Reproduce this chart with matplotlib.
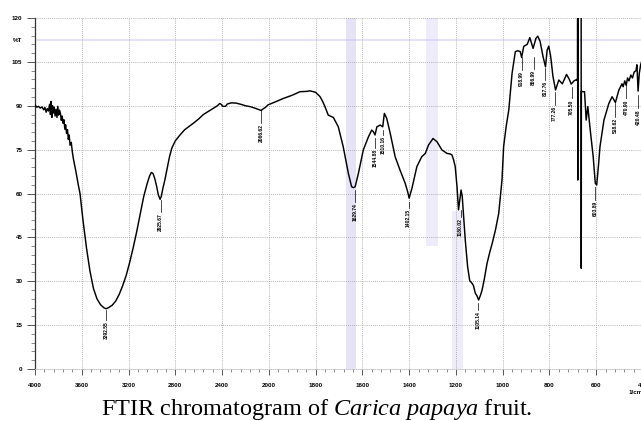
import numpy as np
import matplotlib
matplotlib.use("Agg")
import matplotlib.pyplot as plt
from matplotlib.ticker import FixedLocator

# ---------------- data ----------------
wavenumber = [4000, 3985, 3970, 3955, 3940, 3925, 3915, 3905, 3895, 3885, 3875, 3868, 3862,
              3856, 3850, 3843, 3836, 3828, 3820, 3812, 3805, 3798, 3790, 3782, 3775, 3768,
              3760, 3752, 3745, 3738, 3730, 3722, 3715, 3708, 3700, 3690, 3680, 3670, 3650,
              3630, 3615, 3590, 3560, 3530, 3500, 3470, 3440, 3410, 3392, 3370, 3340, 3310,
              3280, 3250, 3220, 3190, 3160, 3130, 3100, 3070, 3040, 3020, 3005, 2990, 2975,
              2960, 2945, 2930, 2920, 2905, 2890, 2870, 2850, 2830, 2800, 2760, 2720, 2680,
              2640, 2600, 2560, 2520, 2480, 2440, 2420, 2405, 2395, 2370, 2355, 2320, 2280,
              2240, 2200, 2160, 2120, 2080, 2067, 2050, 2030, 2007, 1970, 1938, 1900, 1867,
              1840, 1824, 1800, 1781, 1770, 1760, 1746, 1735, 1724, 1703, 1682, 1660, 1646,
              1638, 1631, 1617, 1596, 1574, 1560, 1552, 1546, 1538, 1524, 1513, 1506, 1496,
              1481, 1460, 1439, 1417, 1406, 1400, 1388, 1367, 1346, 1331, 1317, 1298, 1281,
              1260, 1238, 1224, 1217, 1210, 1203, 1195, 1189, 1183, 1178, 1173, 1167, 1160,
              1150, 1141, 1131, 1125, 1117, 1110, 1103, 1095, 1088, 1078, 1067, 1055, 1045,
              1031, 1017, 1003, 996, 985, 974, 960, 946, 935, 925, 919, 910, 895, 884, 870,
              858, 850, 840, 828, 817, 810, 803, 795, 785, 774, 760, 745, 727, 715, 707, 695,
              683, 680, 679.5, 679, 678.5, 664.5, 664, 663.5, 658, 650, 643, 636, 624, 613,
              604, 598, 590, 584, 567, 546, 532, 518, 503, 490, 485, 478, 472, 466, 460, 452,
              445, 438, 430, 426, 421, 416, 410, 404, 400]
transmittance = [90.3, 89.5, 89.8, 89.2, 89.6, 88.6, 89.4, 87.8, 89.0, 88.2, 90.5, 87.0, 91.5,
                 86.0, 90.0, 87.5, 89.5, 86.5, 88.8, 86.0, 89.8, 86.8, 88.5, 87.2, 85.0, 86.5,
                 84.0, 85.2, 82.0, 83.5, 80.5, 81.8, 78.5, 80.0, 76.5, 77.5, 74.0, 71.5, 67.5,
                 63.0, 60.0, 51.0, 41.5, 33.5, 27.5, 24.0, 22.0, 20.9, 20.6, 21.0, 21.8, 23.2,
                 25.5, 28.5, 32.0, 36.5, 41.5, 47.0, 53.0, 59.0, 63.5, 66.0, 67.2, 66.8, 65.0,
                 62.5, 59.5, 58.0, 59.0, 62.0, 64.5, 68.5, 72.5, 75.5, 78.0, 80.0, 81.8, 83.0,
                 84.2, 85.5, 87.0, 88.0, 89.0, 90.0, 90.8, 90.4, 89.8, 89.8, 90.6, 91.0, 90.9,
                 90.5, 90.0, 89.7, 89.2, 88.6, 88.4, 88.9, 89.4, 90.3, 91.4, 92.5, 93.6, 94.8,
                 94.9, 95.1, 94.6, 93.1, 91.5, 89.7, 86.8, 86.4, 86.0, 82.8, 76.0, 66.9, 62.3,
                 62.0, 62.3, 66.9, 74.9, 79.4, 81.7, 81.0, 80.0, 82.8, 83.4, 82.8, 87.4, 85.7,
                 80.6, 72.6, 68.0, 63.5, 60.5, 58.4, 61.8, 69.2, 72.6, 73.7, 76.6, 78.8, 77.7,
                 74.9, 73.7, 73.5, 73.2, 71.5, 69.2, 62.0, 54.4, 58.0, 61.2, 59.0, 52.0, 44.0,
                 35.0, 30.2, 29.3, 28.5, 25.9, 25.0, 23.6, 25.2, 27.0, 31.0, 36.1, 40.0, 42.9,
                 47.5, 53.2, 64.6, 76.0, 83.0, 88.5, 101.0, 108.5, 108.8, 108.5, 106.5, 110.3,
                 111.0, 113.3, 109.6, 113.0, 113.8, 112.0, 107.0, 103.3, 109.0, 110.4, 107.0,
                 100.0, 95.4, 98.8, 97.5, 100.7, 99.0, 97.4, 98.5, 99.0, 98.5, 130.0, 64.6,
                 130.0, 130.0, 34.4, 95.0, 94.8, 94.8, 85.1, 89.7, 80.5, 72.6, 63.5, 62.9, 70.0,
                 76.0, 85.1, 90.8, 93.1, 91.1, 95.4, 97.5, 96.5, 98.5, 97.0, 99.5, 98.5, 100.5,
                 99.5, 101.5, 102.0, 104.0, 95.0, 101.0, 104.0, 105.6, 106.0]

peak_labels = ["3392.55", "2925.67", "2066.62", "1629.74", "1544.88", "1510.16", "1402.15",
               "1180.02", "1105.14", "918.99", "866.99", "817.76", "777.26", "705.50",
               "603.89", "518.62", "470.90", "420.48"]
peak_x = [3392.55, 2925.67, 2066.62, 1629.74, 1544.88, 1510.16, 1402.15, 1180.02, 1105.14,
          918.99, 866.99, 817.76, 777.26, 705.50, 603.89, 518.62, 470.90, 420.48]
peak_line_top = [20.2, 57.8, 88.5, 61.2, 79.0, 81.7, 57.1, 54.4, 22.6, 106.7, 106.7, 103.0,
                 94.7, 96.4, 62.2, 91.0, 97.0, 93.7]
peak_line_bottom = [16.8, 53.8, 84.1, 57.1, 75.6, 80.0, 55.0, 52.0, 20.2, 102.2, 102.6, 98.8,
                    90.3, 92.6, 57.8, 86.2, 92.6, 89.2]

x_major = [4000, 3600, 3200, 2800, 2400, 2000, 1800, 1600, 1400, 1200, 1000, 800, 600, 400]
y_major = [0, 15, 30, 45, 60, 75, 90, 105, 120]

# ---------------- scale: FTIR 2x expansion below 2000 cm-1 ----------------
def fwd(x):
    x = np.asarray(x, dtype=float)
    return np.where(x > 2000, 2000 + (x - 2000) / 2.0, x)

def inv(u):
    u = np.asarray(u, dtype=float)
    return np.where(u > 2000, 2000 + (u - 2000) * 2.0, u)

fig = plt.figure(figsize=(6.41, 4.21), dpi=100)
ax = fig.add_axes([35 / 641, 1 - 369 / 421, 608 / 641, 351 / 421])
ax.set_xscale('function', functions=(fwd, inv))
ax.set_xlim(4000, 400)
ax.set_ylim(0, 120)

# scan artefacts (lavender smudges)
ax.axvspan(1668, 1628, color='#c9c2ee', alpha=0.45, lw=0, zorder=0)
ax.axvspan(1330, 1275, ymin=0.35, ymax=1.0, color='#d6d0f3', alpha=0.4, lw=0, zorder=0)
ax.axvspan(1215, 1170, ymin=0.0, ymax=0.45, color='#d6d0f3', alpha=0.4, lw=0, zorder=0)
ax.axhline(112.5, color='#c4bceb', lw=1.4, alpha=0.45, zorder=0)

ax.plot(wavenumber, transmittance, color='black', lw=1.05, zorder=3)

for lab, px, t0, t1 in zip(peak_labels, peak_x, peak_line_top, peak_line_bottom):
    ax.plot([px, px], [t0, t1], color='black', lw=0.5, zorder=3)
    ax.text(px, t1 - 0.4, lab, rotation=90, ha='center', va='top', fontsize=3.6,
            fontweight='bold', family='Liberation Sans', zorder=4)

ax.xaxis.set_major_locator(FixedLocator(x_major))
minor_x = list(np.arange(4000, 2000, -80)) + list(np.arange(2000, 399, -40))
ax.xaxis.set_minor_locator(FixedLocator(minor_x))
ax.set_xticklabels([str(v) for v in x_major])
ax.yaxis.set_major_locator(FixedLocator(y_major))
ax.yaxis.set_minor_locator(FixedLocator(list(np.arange(0, 121, 3))))

ax.grid(True, which='major', color='#9a9a9a', lw=0.6, ls=(0, (1, 1.5)))
for s in ['top', 'right']:
    ax.spines[s].set_visible(False)
ax.spines['left'].set_color('#333333')
ax.spines['left'].set_linewidth(0.9)
ax.spines['bottom'].set_color('#bbbbbb')
ax.spines['bottom'].set_linewidth(0.6)
ax.spines['bottom'].set_linestyle((0, (1, 1.5)))

ax.tick_params(axis='y', which='major', length=6, width=0.7, color='#555555', pad=3,
               direction='out')
ax.tick_params(axis='y', which='minor', length=3, width=0.6, color='#777777', direction='out')
ax.tick_params(axis='x', which='major', length=4, width=0.7, color='#555555', pad=6,
               direction='out')
ax.tick_params(axis='x', which='minor', length=2.5, width=0.6, color='#777777', direction='out')
for lbl in ax.get_xticklabels() + ax.get_yticklabels():
    lbl.set_fontsize(4.5)
    lbl.set_fontweight('bold')
    lbl.set_family('Liberation Sans')

fig.text(22 / 641, 1 - 40.5 / 421, '%T', ha='right', va='center', fontsize=4.5,
         fontweight='bold', family='Liberation Sans')
fig.text(629 / 641, 1 - 392 / 421, '1/cm', ha='left', va='center', fontsize=4.5,
         fontweight='bold', family='Liberation Sans')

plt.rcParams['mathtext.fontset'] = 'custom'
plt.rcParams['mathtext.rm'] = 'Liberation Serif'
plt.rcParams['mathtext.it'] = 'Liberation Serif:italic'
fig.text(316.5 / 641, 1 - 414.5 / 421, r'FTIR chromatogram of $\mathit{Carica\ papaya}$ fruit.',
         ha='center', va='baseline', fontsize=17.5, family='Liberation Serif')

fig.savefig('out.png', dpi=100)
